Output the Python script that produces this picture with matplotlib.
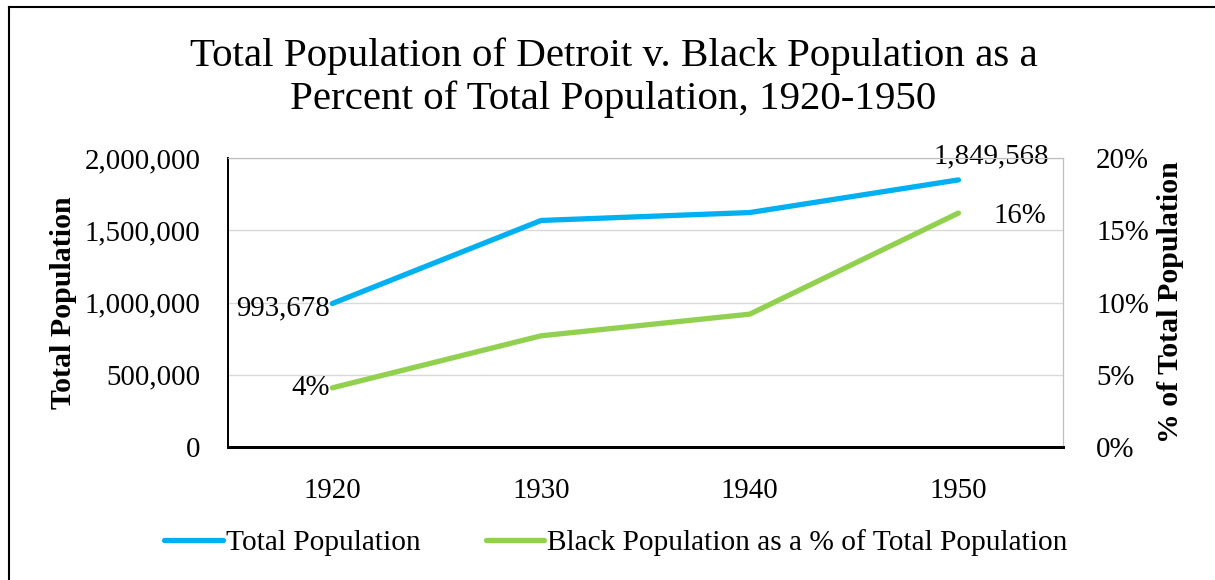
import matplotlib
matplotlib.use('Agg')
import matplotlib.pyplot as plt
from matplotlib.lines import Line2D
from matplotlib.ticker import FuncFormatter

# Données
years = ['1920', '1930', '1940', '1950']
total_pop = [993678, 1568662, 1623452, 1849568]
black_pct = [4.1, 7.7, 9.2, 16.2]

blue = '#00B0F0'
green = '#92D050'
plt.rcParams['font.family'] = ['Liberation Serif', 'DejaVu Serif']

fig = plt.figure(figsize=(12.15, 5.8), dpi=100)
ax = fig.add_axes([0.1877, 0.2293, 0.687, 0.498])
ax2 = ax.twinx()

x = list(range(len(years)))
ax.plot(x, total_pop, color=blue, lw=3.8, solid_capstyle='round', label='Total Population', zorder=3)
ax2.plot(x, black_pct, color=green, lw=3.8, solid_capstyle='round',
         label='Black Population as a % of Total Population', zorder=3)

ax.set_xlim(-0.5, 3.5)
ax.set_ylim(0, 2000000)
ax.set_yticks(range(0, 2000001, 500000))
ax.yaxis.set_major_formatter(FuncFormatter(lambda v, p: f'{int(v):,}'))
ax2.set_ylim(0, 20)
ax2.set_yticks(range(0, 21, 5))
ax2.yaxis.set_major_formatter(FuncFormatter(lambda v, p: f'{int(v)}%'))
ax.set_xticks(x)
ax.set_xticklabels(years)

ax.grid(axis='y', color='#d9d9d9', lw=1)
ax.set_axisbelow(True)
ax.tick_params(axis='both', length=0, labelsize=20.8, pad=20)
ax2.tick_params(axis='y', length=0, labelsize=20.8, pad=24)
ax.tick_params(axis='x', pad=22)

for a in (ax, ax2):
    a.spines['left'].set_color('black')
    a.spines['left'].set_linewidth(1.3)
    a.spines['bottom'].set_color('black')
    a.spines['bottom'].set_linewidth(2)
    a.spines['top'].set_color('#bfbfbf')
    a.spines['right'].set_color('#bfbfbf')

ax.set_ylabel('Total Population', fontsize=21.5, fontweight='bold', labelpad=5)
ax2.set_ylabel('% of Total Population', fontsize=21.5, fontweight='bold', labelpad=6)

# Étiquettes de données
ax.annotate(f'{total_pop[0]:,}', (x[0], total_pop[0]), xytext=(-3, -5), textcoords='offset pixels',
            ha='right', va='center', fontsize=20.8)
ax.annotate(f'{total_pop[-1]:,}', (x[-1], total_pop[-1]), xytext=(33, 24), textcoords='offset pixels',
            ha='center', va='center', fontsize=20.8)
ax2.annotate(f'{black_pct[0]:.0f}%', (x[0], black_pct[0]), xytext=(-3, 0), textcoords='offset pixels',
             ha='right', va='center', fontsize=20.8)
ax2.annotate(f'{black_pct[-1]:.0f}%', (x[-1], black_pct[-1]), xytext=(35, -3), textcoords='offset pixels',
             ha='left', va='center', fontsize=20.8)

fig.text(0.505, 0.866, 'Total Population of Detroit v. Black Population as a\nPercent of Total Population, 1920-1950',
         ha='center', va='center', fontsize=29.5, linespacing=1.2)

h1, l1 = ax.get_legend_handles_labels()
h2, l2 = ax2.get_legend_handles_labels()
fig.legend(h1 + h2, l1 + l2, loc='center', bbox_to_anchor=(0.507, 0.064), ncol=2, frameon=False,
           fontsize=21.2, handlelength=2.0, handletextpad=0.1, columnspacing=2.2)

# Cadre
fig.add_artist(Line2D([9 / 1215, 9 / 1215], [0, 1 - 7 / 580], color='black', lw=1.5))
fig.add_artist(Line2D([9 / 1215, 1], [1 - 7 / 580, 1 - 7 / 580], color='black', lw=1.5))

fig.savefig('out.png', dpi=100)
